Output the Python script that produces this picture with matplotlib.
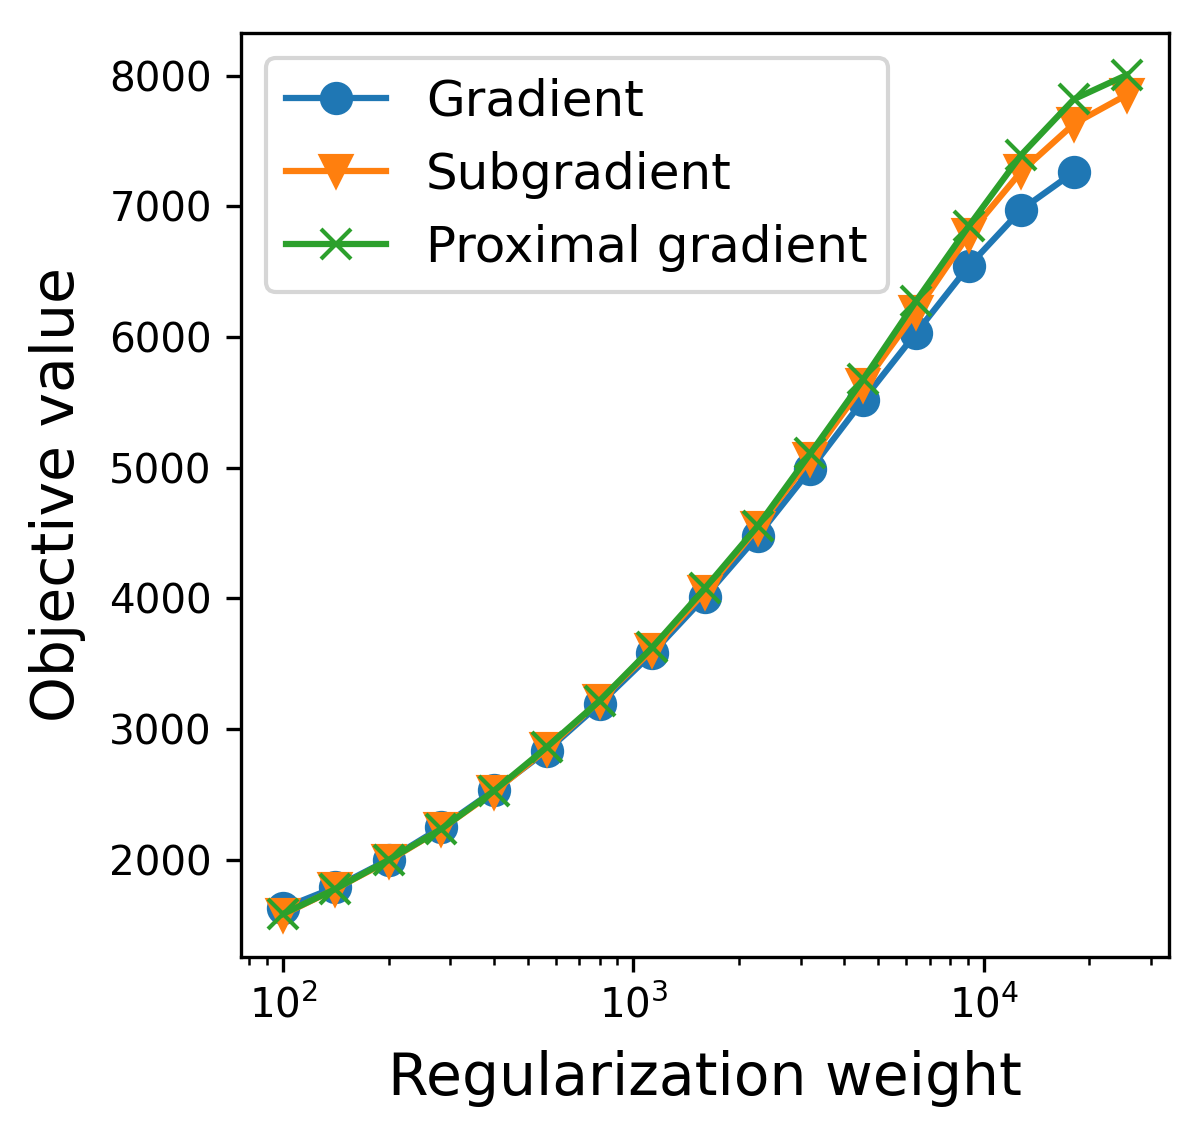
import matplotlib
matplotlib.use("Agg")
import matplotlib.pyplot as plt

weights = [100, 141, 200, 283, 400, 566, 800, 1131, 1600, 2263, 3200,
           4525, 6400, 9051, 12800, 18102, 25600]

gradient = [1631, 1791, 2002, 2250, 2531, 2835, 3192, 3581, 4013, 4478,
            4987, 5517, 6029, 6541, 6974, 7262]
subgradient = [1582, 1778, 1994, 2237, 2522, 2848, 3217, 3607, 4053, 4542,
               5070, 5631, 6192, 6783, 7267, 7631, 7853]
proximal = [1587, 1778, 2000, 2237, 2529, 2863, 3217, 3625, 4078, 4554,
            5110, 5675, 6273, 6846, 7394, 7820, 8005]

labels = ["Gradient", "Subgradient", "Proximal gradient"]
yticks = [2000, 3000, 4000, 5000, 6000, 7000, 8000]

fig = plt.figure(figsize=(1202 / 300, 1136 / 300), dpi=300)
ax = fig.add_axes([0.2005, 0.158, 0.7720, 0.813])

ax.plot(weights[:len(gradient)], gradient, marker="o", markersize=7,
        color="#1f77b4", label=labels[0])
ax.plot(weights, subgradient, marker="v", markersize=7,
        color="#ff7f0e", label=labels[1])
ax.plot(weights, proximal, marker="x", markersize=7,
        color="#2ca02c", label=labels[2])

ax.set_xscale("log")
ax.set_yticks(yticks)
ax.tick_params(labelsize=9.7)
ax.set_xlabel("Regularization weight", fontsize=14, labelpad=5.5)
ax.set_ylabel("Objective value", fontsize=14, labelpad=5.5)
ax.legend(loc="upper left", fontsize=12)

fig.savefig("out.png", dpi=300)
